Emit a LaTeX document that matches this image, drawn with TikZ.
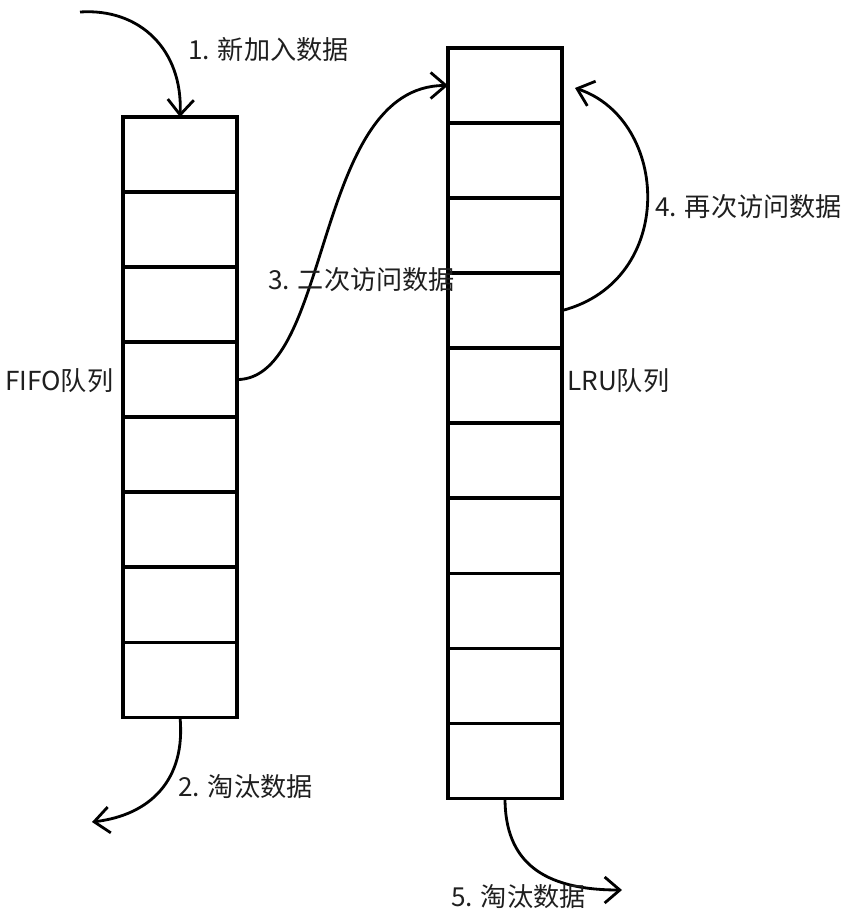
\documentclass[tikz,border=0pt]{standalone}
\usepackage{fontspec}
\setmainfont{Noto Sans CJK SC}
\usepackage{xcolor}
\usepackage{tikz}
\usetikzlibrary{arrows.meta,positioning}

\begin{document}
\begin{tikzpicture}[x=0.025cm,y=-0.025cm,
	>={Straight Barb[length=3.8mm,width=6.5mm]}]

	\tikzstyle{cell}=[rectangle,draw,line width=2.3pt,outer sep=0pt,minimum width=2.85cm,minimum height=1.875cm]
	\tikzstyle{flow}=[->,line width=2pt]
	\tikzstyle{label}=[anchor=west,inner sep=0pt,text=black!88,font=\fontsize{18.6}{20}\selectfont]

	\useasboundingbox (0,0) rectangle (850,918);

	% FIFO queue
	\node[cell] (f1) at (180,154.5) {};
	\node[cell,below=0pt of f1] (f2) {};
	\node[cell,below=0pt of f2] (f3) {};
	\node[cell,below=0pt of f3] (f4) {};
	\node[cell,below=0pt of f4] (f5) {};
	\node[cell,below=0pt of f5] (f6) {};
	\node[cell,below=0pt of f6] (f7) {};
	\node[cell,below=0pt of f7] (f8) {};

	% LRU queue
	\node[cell] (l1) at (505,85.5) {};
	\node[cell,below=0pt of l1] (l2) {};
	\node[cell,below=0pt of l2] (l3) {};
	\node[cell,below=0pt of l3] (l4) {};
	\node[cell,below=0pt of l4] (l5) {};
	\node[cell,below=0pt of l5] (l6) {};
	\node[cell,below=0pt of l6] (l7) {};
	\node[cell,below=0pt of l7] (l8) {};
	\node[cell,below=0pt of l8] (l9) {};
	\node[cell,below=0pt of l9] (l10) {};

	\coordinate (newin) at (80,12);
	\coordinate (fout) at (92,822);
	\coordinate (hit) at (575,88);
	\coordinate (lout) at (622,890);

	\draw[flow] (newin) .. controls +(60,-4) and +(3,-67) .. (f1.north);
	\draw[flow] (f8.south) .. controls +(6,63) and +(58,-7) .. (fout);
	\draw[flow] (f4.east) .. controls +(95,0) and +(-135,0) .. (l1.west);
	\draw[flow] (l4.east) .. controls +(115,-30) and +(95,32) .. (hit);
	\draw[flow] (l10.south) .. controls +(0,63) and +(-80,0) .. (lout);

	\node[label] (t1) at (188,50) {1. 新加入数据};
	\node[label] (t2) at (178,787) {2. 淘汰数据};
	\node[label] (t3) at (268,280) {3. 二次访问数据};
	\node[label] (t4) at (655,207) {4. 再次访问数据};
	\node[label] (t5) at (451,897) {5. 淘汰数据};
	\node[label] (fifo) at (5,381) {FIFO队列};
	\node[label] (lru) at (567,381) {LRU队列};

\end{tikzpicture}
\end{document}
